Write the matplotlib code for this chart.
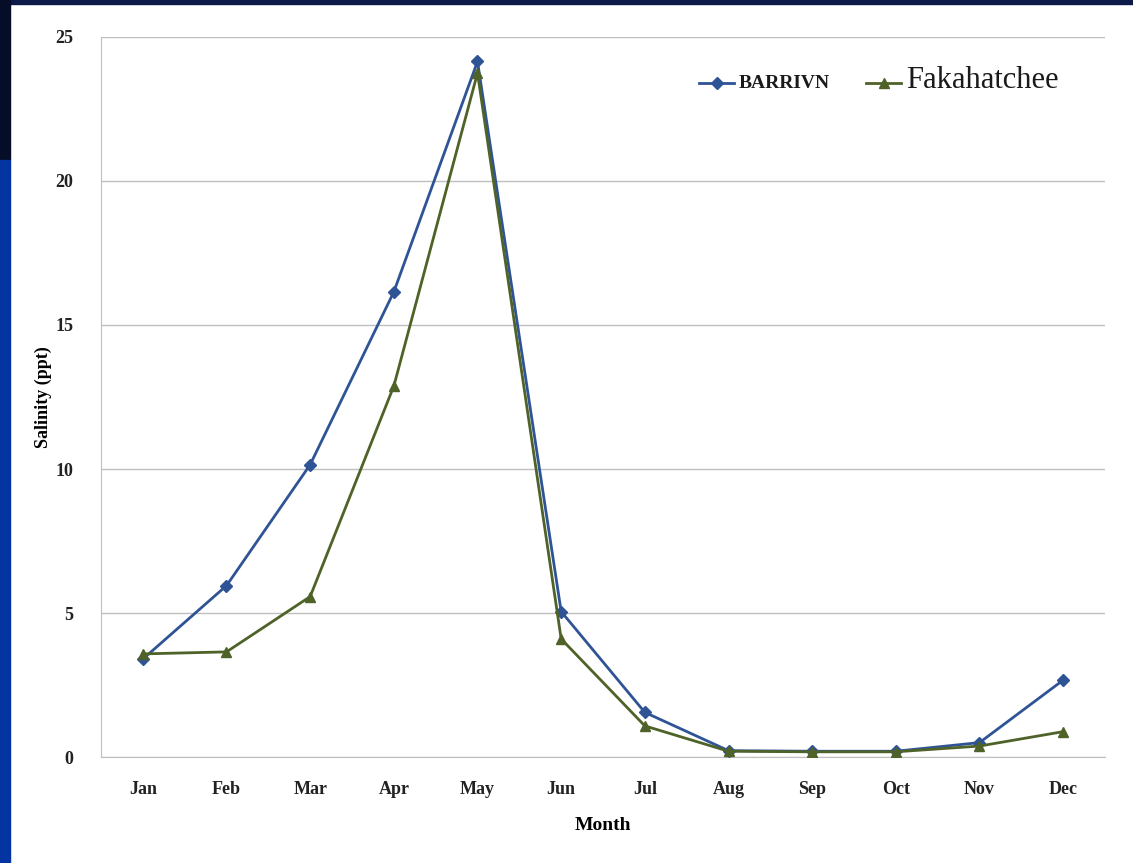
import matplotlib.pyplot as plt
from matplotlib.patches import Rectangle

# Monthly salinity (ppt)
months = ["Jan", "Feb", "Mar", "Apr", "May", "Jun",
          "Jul", "Aug", "Sep", "Oct", "Nov", "Dec"]
barrivn = [3.4, 5.95, 10.15, 16.15, 24.15, 5.05, 1.55, 0.22, 0.2, 0.2, 0.5, 2.67]
fakahatchee = [3.58, 3.65, 5.57, 12.88, 23.75, 4.1, 1.08, 0.2, 0.18, 0.18, 0.38, 0.88]
yticks = [0, 5, 10, 15, 20, 25]

plt.rcParams["font.family"] = ["Liberation Serif", "DejaVu Serif"]

fig = plt.figure(figsize=(11.33, 8.63), dpi=100)
fig.patch.set_facecolor("white")

# slide frame around the white panel
W, H = 1133, 863
fig.patches.append(Rectangle((0, 1 - 4 / H), 1, 4 / H, transform=fig.transFigure,
                             color="#0b1a48", zorder=0))
fig.patches.append(Rectangle((0, 1 - 160 / H), 10 / W, 160 / H, transform=fig.transFigure,
                             color="#060d26", zorder=0))
fig.patches.append(Rectangle((0, 0), 10 / W, 1 - 160 / H, transform=fig.transFigure,
                             color="#0434a2", zorder=0))

ax = fig.add_axes([101 / W, 106 / H, 1004 / W, 720 / H])
x = list(range(len(months)))

ax.plot(x, barrivn, color="#2f5496", lw=2, marker="D", ms=6, label="BARRIVN", zorder=3)
ax.plot(x, fakahatchee, color="#4f6228", lw=2, marker="^", ms=7, label="Fakahatchee", zorder=3)

ax.set_xlim(-0.5, 11.5)
ax.set_ylim(0, 25)
ax.set_yticks(yticks)
ax.set_xticks(x)
ax.set_xticklabels(months)
ax.grid(axis="y", color="#bfbfbf", lw=1)
ax.set_axisbelow(True)
for s in ["top", "right"]:
    ax.spines[s].set_visible(False)
for s in ["left", "bottom"]:
    ax.spines[s].set_color("#bfbfbf")
ax.tick_params(length=0, labelsize=13)
for lab in ax.get_xticklabels() + ax.get_yticklabels():
    lab.set_fontweight("bold")
    lab.set_color("#222222")
ax.tick_params(axis="x", pad=17)
ax.tick_params(axis="y", pad=20)

ax.set_xlabel("Month", fontsize=14, fontweight="bold", labelpad=14)
ax.set_ylabel("Salinity (ppt)", fontsize=13, fontweight="bold", labelpad=2)

leg = ax.legend(loc="center right", bbox_to_anchor=(0.966, 0.94), ncol=2, frameon=False,
                handlelength=2.5, columnspacing=2.6, handletextpad=0.35)
leg.get_texts()[0].set_fontweight("bold")
leg.get_texts()[0].set_fontsize(14)
leg.get_texts()[1].set_fontsize(22)
for t in leg.get_texts():
    t.set_color("#1a1a1a")

fig.savefig("out.png", dpi=100)
